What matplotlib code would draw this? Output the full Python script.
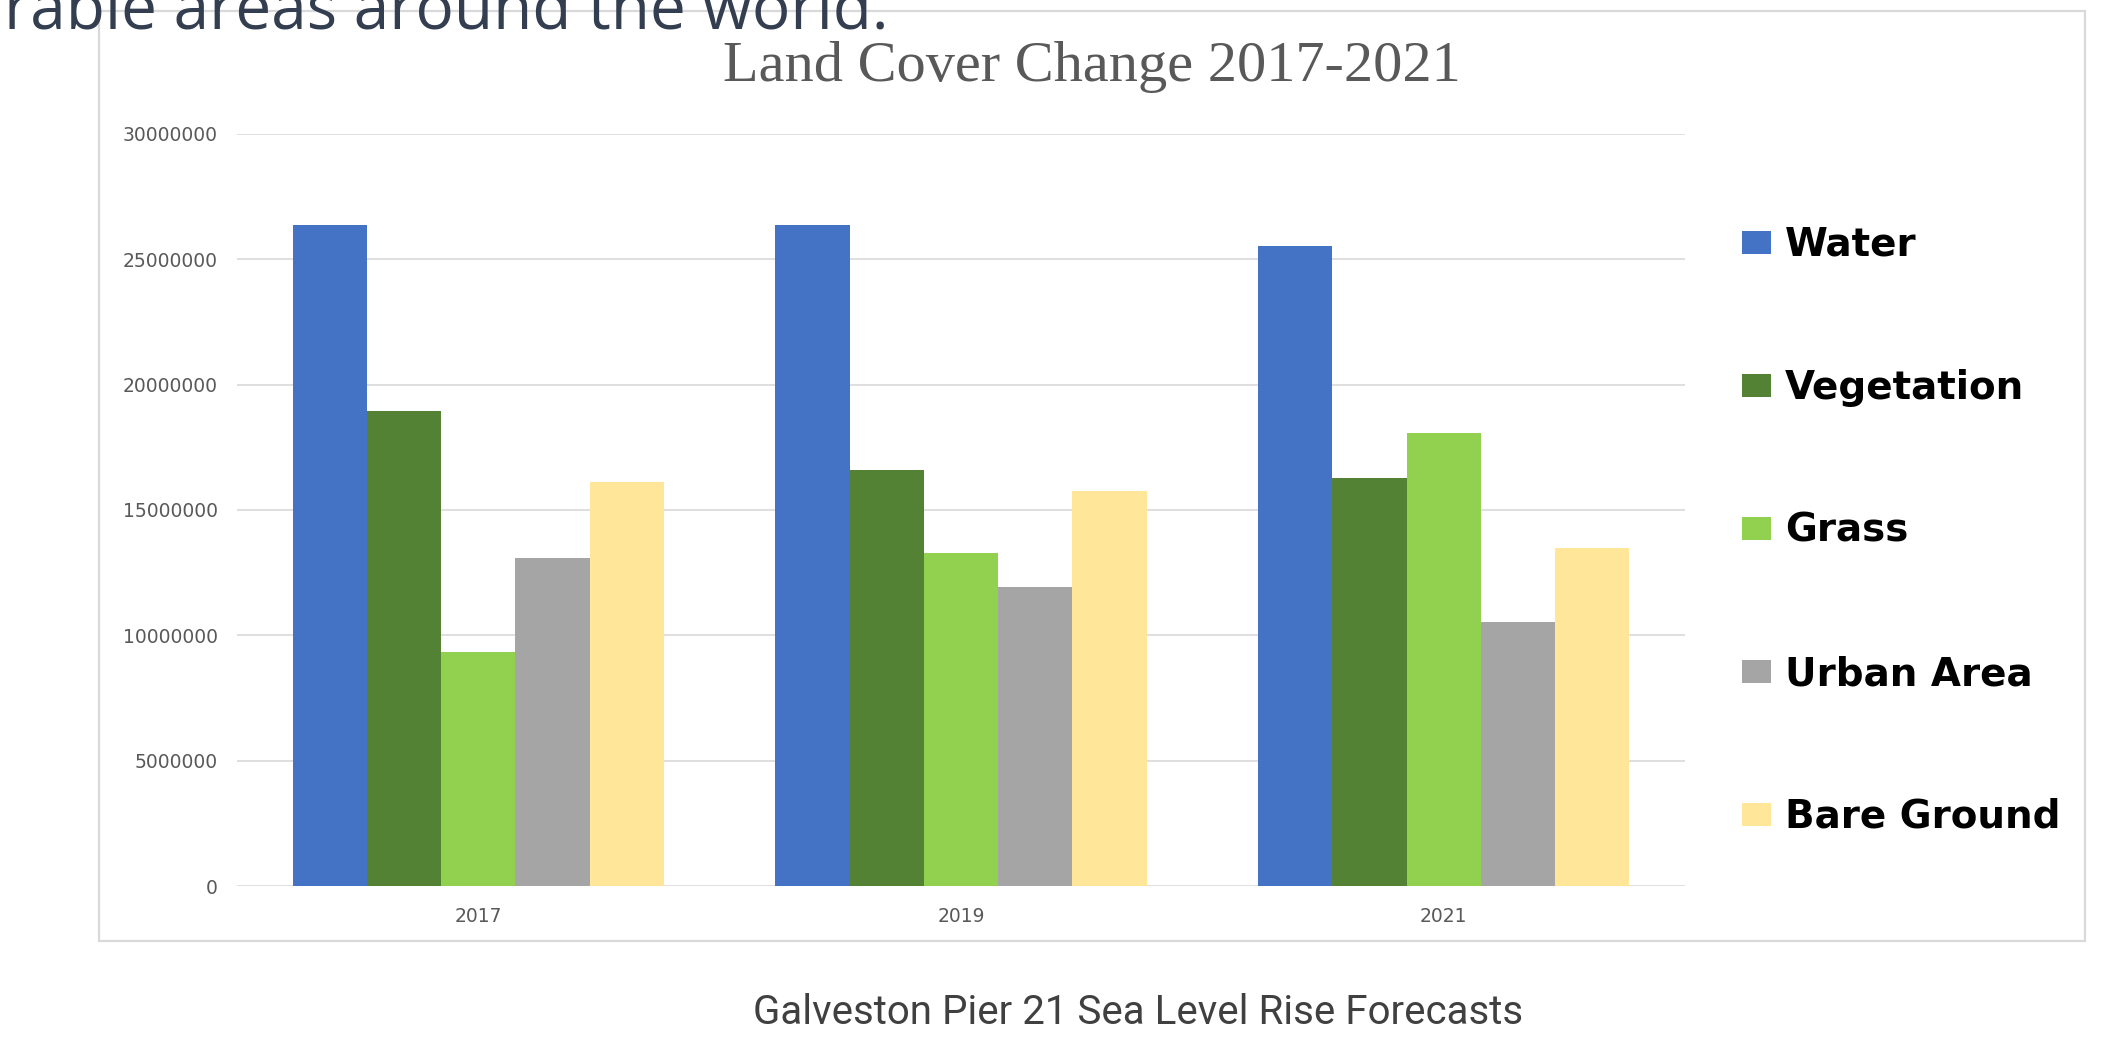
import numpy as np
import matplotlib.pyplot as plt
from matplotlib.patches import Rectangle

# land cover area per class and year
years = ['2017', '2019', '2021']
classes = ['Water', 'Vegetation', 'Grass', 'Urban Area', 'Bare Ground']
water = [26350000, 26350000, 25540000]
vegetation = [18960000, 16590000, 16280000]
grass = [9340000, 13290000, 18070000]
urban = [13070000, 11920000, 10550000]
bare = [16120000, 15760000, 13480000]
y_ticks = [0, 5000000, 10000000, 15000000, 20000000, 25000000, 30000000]

series = [water, vegetation, grass, urban, bare]
colors = ['#4472C4', '#548235', '#92D050', '#A5A5A5', '#FFE699']

W, H = 2122, 1045
fig = plt.figure(figsize=(W / 100, H / 100), dpi=100)
fig.patch.set_facecolor('white')

# chart frame
fig.patches.append(Rectangle((99 / W, 1 - 941 / H), (2085 - 99) / W, (941 - 11) / H,
                             transform=fig.transFigure, fill=False,
                             edgecolor='#D9D9D9', linewidth=1.6, zorder=0))

# cut-off slide text above the chart
fig.text(4 / W, 1 - 29 / H, 'rable areas around the world.', family='Open Sans',
         fontsize=46, color='#333F50', va='baseline', ha='left', zorder=5)

ax = fig.add_axes([237 / W, 1 - 886 / H, 1448 / W, 752 / H])
x = np.arange(len(years))
width = 0.154
for i, (vals, name, c) in enumerate(zip(series, classes, colors)):
    ax.bar(x + (i - 2) * width, vals, width, color=c, label=name, zorder=3)

ax.set_xlim(-0.5, 2.5)
ax.set_ylim(0, 30000000)
ax.set_yticks(y_ticks)
ax.set_yticklabels([str(v) for v in y_ticks])
ax.set_xticks(x)
ax.set_xticklabels(years)
ax.tick_params(axis='y', length=0, pad=14, labelsize=13.5, labelcolor='#595959')
ax.tick_params(axis='x', length=0, pad=15, labelsize=13.5, labelcolor='#595959')
ax.grid(axis='y', color='#D9D9D9', linewidth=1.2, zorder=0)
for s in ax.spines.values():
    s.set_visible(False)

fig.text(1092 / W, 1 - 81 / H, 'Land Cover Change 2017-2021', family='Liberation Serif',
         fontsize=42, color='#595959', ha='center', va='baseline')

fig.legend(loc='upper left', bbox_to_anchor=(1742 / W, 1 - 226 / H), frameon=False,
           prop={'family': 'DejaVu Sans', 'weight': 'bold', 'size': 28},
           handlelength=0.75, handleheight=0.52, handletextpad=0.36,
           labelspacing=2.70, borderpad=0, borderaxespad=0)

fig.text(1138 / W, 1 - 1013 / H, 'Galveston Pier 21 Sea Level Rise Forecasts',
         family='Roboto', fontsize=29, color='#404040', ha='center', va='center')

fig.savefig('out.png', dpi=100)
